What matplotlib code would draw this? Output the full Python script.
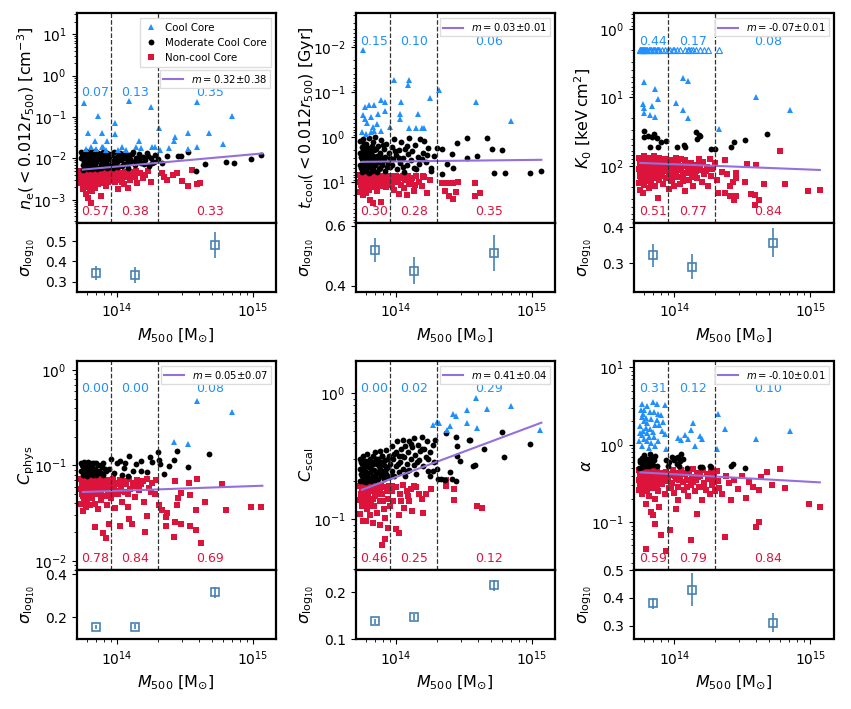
import numpy as np
import matplotlib.pyplot as plt
from matplotlib.ticker import NullFormatter

# all points are (log10 M500, log10 value)

# n_e(<0.012 r500)
ne_cc = [(13.76, -0.65), (13.865, -0.97), (13.79, -1.39), (13.89, -1.39), (13.84, -1.57), (13.93, -1.57),
         (13.99, -1.15), (13.99, -1.41), (14.09, -0.61), (14.25, -0.75), (14.165, -1.57), (14.31, -1.27),
         (14.43, -1.49), (14.52, -1.39), (14.59, -0.63), (14.68, -1.38), (14.78, -1.65), (14.85, -0.97),
         (13.90, -1.72), (13.92, -1.79), (14.01, -1.79), (14.035, -1.72), (14.07, -1.79), (14.14, -1.72),
         (14.18, -1.75), (14.26, -1.72), (14.28, -1.72), (14.32, -1.79), (14.38, -1.75), (14.52, -1.77),
         (14.59, -1.72), (13.77, -1.78), (13.81, -1.72), (13.85, -1.78), (13.89, -1.72), (14.42, -1.59)]
ne_mcc = [(13.74, -1.85), (13.74, -2.0), (13.75, -2.15), (13.75, -2.28), (13.76, -1.92), (13.76, -2.08),
          (13.77, -1.82), (13.77, -2.20), (13.78, -1.98), (13.78, -2.12), (13.79, -1.88), (13.79, -2.25),
          (13.80, -2.02), (13.80, -2.16), (13.81, -1.84), (13.81, -1.95), (13.82, -2.10), (13.82, -2.26),
          (13.83, -1.90), (13.83, -2.04), (13.84, -1.82), (13.84, -2.18), (13.85, -1.96), (13.85, -2.08),
          (13.86, -1.86), (13.86, -2.22), (13.87, -2.00), (13.88, -1.92), (13.88, -2.14), (13.89, -2.05),
          (13.90, -1.85), (13.90, -2.20), (13.91, -1.98), (13.92, -2.10), (13.93, -1.88), (13.94, -2.02),
          (13.95, -2.16), (13.96, -1.92), (13.97, -2.06), (13.98, -1.84), (13.99, -2.12), (14.00, -1.96),
          (14.01, -2.20), (14.02, -1.88), (14.03, -2.04), (14.04, -1.94), (14.05, -2.14), (14.06, -1.86),
          (14.07, -2.00), (14.08, -2.22), (14.09, -1.92), (14.10, -2.08), (14.12, -1.84), (14.13, -2.16),
          (14.14, -1.98), (14.15, -2.06), (14.16, -1.90), (14.18, -2.12), (14.19, -1.96), (14.21, -2.04),
          (14.22, -1.88), (14.24, -2.18), (14.25, -1.98), (14.27, -2.08), (14.28, -1.92), (14.30, -2.02),
          (14.33, -2.10), (14.37, -1.94), (14.45, -1.94), (14.47, -1.95), (14.52, -1.84), (14.58, -2.30),
          (14.65, -2.14), (14.80, -2.08), (14.86, -2.11), (14.985, -2.02), (15.06, -1.91),
          (13.745, -1.95), (13.755, -2.05), (13.765, -2.22), (13.775, -1.90), (13.785, -2.05), (13.795, -2.18),
          (13.805, -1.92), (13.815, -2.22), (13.825, -1.98), (13.835, -2.15), (13.845, -1.92), (13.855, -2.25),
          (13.865, -2.02), (13.875, -1.90), (13.885, -2.24), (13.895, -1.95), (13.905, -2.12), (13.915, -1.86),
          (13.925, -2.24), (13.935, -1.98), (13.945, -2.20), (13.955, -1.90), (13.965, -2.10), (13.975, -2.24),
          (13.985, -1.98), (14.0, -2.08), (14.015, -1.90), (14.035, -2.18), (14.055, -1.98), (14.075, -2.10),
          (14.095, -2.02), (14.11, -1.90), (14.13, -2.06), (14.17, -2.00), (14.20, -2.14), (14.23, -1.95),
          (14.26, -2.12)]
ne_ncc = [(13.74, -2.30), (13.74, -2.45), (13.74, -2.60), (13.75, -2.38), (13.75, -2.52), (13.75, -2.75),
          (13.76, -2.32), (13.76, -2.48), (13.76, -2.65), (13.77, -2.40), (13.77, -2.56), (13.77, -2.85),
          (13.78, -2.35), (13.78, -2.50), (13.78, -2.70), (13.79, -2.42), (13.79, -2.60), (13.79, -2.95),
          (13.80, -2.30), (13.80, -2.47), (13.80, -2.62), (13.81, -2.38), (13.81, -2.55), (13.81, -3.08),
          (13.82, -2.33), (13.82, -2.50), (13.82, -2.78), (13.83, -2.42), (13.83, -2.58), (13.84, -2.36),
          (13.84, -2.52), (13.84, -2.72), (13.85, -2.30), (13.85, -2.46), (13.86, -2.40), (13.86, -2.62),
          (13.87, -2.34), (13.87, -2.50), (13.88, -2.44), (13.88, -2.90), (13.89, -2.32), (13.89, -2.56),
          (13.90, -2.40), (13.91, -2.48), (13.92, -2.35), (13.92, -2.66), (13.93, -2.44), (13.94, -2.30),
          (13.95, -2.52), (13.96, -2.38), (13.97, -2.46), (13.98, -2.34), (13.99, -2.58), (14.00, -2.42),
          (14.01, -2.74), (14.02, -2.36), (14.03, -2.50), (14.04, -2.40), (14.05, -2.62), (14.06, -2.32),
          (14.07, -2.46), (14.08, -2.72), (14.09, -2.38), (14.10, -2.52), (14.12, -2.34), (14.13, -2.44),
          (14.15, -2.60), (14.17, -2.36), (14.19, -2.48), (14.21, -2.40), (14.23, -2.30), (14.25, -2.56),
          (14.33, -2.35), (14.35, -2.44), (14.37, -2.51), (14.41, -2.39), (14.44, -2.35), (14.48, -2.55),
          (14.52, -2.67), (14.55, -2.29), (14.59, -2.63), (14.61, -2.60),
          (13.745, -2.35), (13.745, -2.55), (13.755, -2.42), (13.755, -2.62), (13.765, -2.30), (13.765, -2.56),
          (13.775, -2.45), (13.775, -2.68), (13.785, -2.32), (13.785, -2.58), (13.795, -2.50), (13.805, -2.38),
          (13.805, -2.72), (13.815, -2.45), (13.825, -2.32), (13.825, -2.62), (13.835, -2.48), (13.845, -2.40),
          (13.855, -2.56), (13.865, -2.32), (13.875, -2.44), (13.885, -2.60), (13.895, -2.38), (13.905, -2.52),
          (13.915, -2.32), (13.935, -2.56), (13.955, -2.40), (13.975, -2.32), (14.0, -2.52), (14.04, -2.56),
          (14.11, -2.42), (14.14, -2.30)]

# t_cool(<0.012 r500)
tc_cc = [(13.76, -1.94), (14.10, -1.27), (13.985, -1.27), (14.09, -1.15), (14.25, -0.86), (14.32, -1.03),
         (14.59, -0.78), (14.85, -0.36), (13.89, -0.82), (13.92, -0.78), (13.84, -0.71), (13.80, -0.71),
         (13.77, -0.67), (13.76, -0.48), (13.77, -0.39), (13.82, -0.45), (13.83, -0.22), (13.84, -0.13),
         (13.87, -0.51), (13.75, -0.10), (13.78, -0.06), (13.82, -0.10), (13.89, -0.13), (13.92, -0.58),
         (13.96, -0.21), (14.03, -0.51), (14.03, -0.39), (14.165, -0.51), (14.15, -0.19), (14.19, -0.19),
         (14.10, -0.19), (14.21, -0.19), (14.04, -0.77), (13.79, -0.30), (13.86, -0.28)]
tc_mcc = [(13.74, 0.10), (13.74, 0.35), (13.74, 0.62), (13.75, 0.22), (13.75, 0.50), (13.75, 0.78),
          (13.76, 0.05), (13.76, 0.40), (13.76, 0.68), (13.77, 0.28), (13.77, 0.55), (13.78, 0.15),
          (13.78, 0.45), (13.78, 0.75), (13.79, 0.32), (13.79, 0.60), (13.80, 0.02), (13.80, 0.48),
          (13.80, 0.80), (13.81, 0.25), (13.81, 0.66), (13.82, 0.38), (13.82, 0.55), (13.83, 0.12),
          (13.83, 0.72), (13.84, 0.30), (13.84, 0.50), (13.85, 0.00), (13.85, 0.62), (13.86, 0.42),
          (13.86, 0.78), (13.87, 0.20), (13.87, 0.56), (13.88, 0.35), (13.88, 0.70), (13.89, 0.08),
          (13.89, 0.48), (13.90, 0.62), (13.91, 0.28), (13.92, 0.44), (13.92, 0.75), (13.93, 0.15),
          (13.94, 0.58), (13.95, 0.36), (13.96, 0.68), (13.97, 0.22), (13.98, 0.50), (13.99, 0.05),
          (14.00, 0.40), (14.01, 0.72), (14.02, 0.30), (14.03, 0.58), (14.04, 0.12), (14.05, 0.46),
          (14.06, 0.78), (14.07, 0.26), (14.08, 0.62), (14.09, 0.38), (14.10, 0.02), (14.11, 0.52),
          (14.12, 0.31), (14.13, 0.70), (14.14, 0.18), (14.16, 0.45), (14.17, 0.60), (14.18, 0.05),
          (14.20, 0.35), (14.21, 0.09), (14.22, 0.55), (14.24, 0.24), (14.26, 0.69), (14.28, 0.42),
          (14.30, 0.24), (14.34, 0.28), (14.375, 0.61), (14.41, 0.39), (14.42, 0.69), (14.45, 0.13),
          (14.52, 0.02), (14.52, 0.46), (14.60, 0.42), (14.67, 0.03), (14.71, 0.28), (14.78, 0.30),
          (14.72, 0.81), (14.80, 0.80), (14.99, 0.80), (15.07, 0.77), (14.34, 0.83), (14.26, 0.75),
          (13.745, 0.45), (13.745, 0.70), (13.755, 0.30), (13.755, 0.60), (13.765, 0.15), (13.765, 0.52),
          (13.775, 0.38), (13.775, 0.72), (13.785, 0.25), (13.785, 0.58), (13.795, 0.42), (13.805, 0.68),
          (13.805, 0.30), (13.815, 0.50), (13.825, 0.20), (13.825, 0.76), (13.835, 0.42), (13.845, 0.62),
          (13.855, 0.28), (13.865, 0.52), (13.875, 0.72), (13.885, 0.40), (13.895, 0.60), (13.905, 0.18),
          (13.915, 0.52), (13.935, 0.68), (13.955, 0.46), (13.975, 0.62), (13.995, 0.32), (14.025, 0.48),
          (14.055, 0.66), (14.085, 0.20), (14.15, 0.72), (14.19, 0.50), (14.23, 0.40)]
tc_ncc = [(13.74, 0.85), (13.74, 1.00), (13.74, 1.22), (13.75, 0.92), (13.75, 1.10), (13.76, 0.88),
          (13.76, 1.05), (13.76, 1.30), (13.77, 0.95), (13.77, 1.15), (13.78, 0.86), (13.78, 1.02),
          (13.78, 1.25), (13.79, 0.93), (13.79, 1.08), (13.80, 0.88), (13.80, 1.18), (13.81, 0.98),
          (13.81, 1.40), (13.82, 0.90), (13.82, 1.06), (13.83, 0.85), (13.83, 1.47), (13.84, 0.96),
          (13.84, 1.12), (13.85, 0.88), (13.85, 1.02), (13.86, 0.93), (13.86, 1.20), (13.87, 0.86),
          (13.88, 1.00), (13.88, 1.10), (13.89, 0.90), (13.89, 1.44), (13.90, 1.04), (13.91, 0.87),
          (13.92, 0.97), (13.93, 1.12), (13.94, 0.89), (13.95, 1.02), (13.96, 0.86), (13.97, 1.08),
          (13.98, 0.94), (13.99, 1.18), (14.00, 0.87), (14.01, 1.00), (14.02, 1.26), (14.03, 0.92),
          (14.04, 1.06), (14.05, 0.86), (14.06, 1.14), (14.07, 0.96), (14.08, 1.30), (14.09, 0.88),
          (14.10, 1.04), (14.12, 0.92), (14.13, 1.20), (14.15, 0.87), (14.17, 1.00), (14.19, 1.10),
          (14.21, 0.90), (14.23, 1.24), (14.25, 0.95), (14.34, 1.02), (14.36, 1.21), (14.38, 1.02),
          (14.39, 1.32), (14.42, 1.39), (14.42, 1.02), (14.44, 1.22), (14.46, 1.01), (14.585, 1.02),
          (14.585, 1.32), (14.62, 1.24),
          (13.745, 0.92), (13.745, 1.08), (13.755, 0.86), (13.755, 1.02), (13.765, 0.95), (13.765, 1.14),
          (13.775, 0.88), (13.775, 1.05), (13.785, 0.94), (13.785, 1.12), (13.795, 0.86), (13.795, 1.00),
          (13.805, 0.92), (13.815, 1.08), (13.825, 0.88), (13.835, 1.00), (13.845, 0.90), (13.855, 1.10),
          (13.865, 0.86), (13.875, 1.00), (13.885, 0.92), (13.905, 0.88), (13.925, 1.04), (13.945, 0.92),
          (13.965, 1.00), (13.985, 0.86), (14.015, 0.94), (14.045, 0.90), (14.11, 0.98), (14.14, 1.06),
          (14.20, 0.88)]

# K0
k0_cc = [(13.78, 0.77), (13.77, 1.09), (13.78, 1.16), (13.78, 1.23), (13.82, 1.26), (13.835, 1.13),
         (13.86, 0.87), (13.86, 1.29), (13.88, 1.02), (14.01, 1.08), (14.06, 0.72), (14.065, 1.18),
         (14.10, 0.76), (14.10, 1.30), (14.33, 1.46), (14.60, 1.00), (14.85, 1.19)]
k0_lim = [13.745, 13.75, 13.755, 13.76, 13.765, 13.77, 13.775, 13.78, 13.785, 13.79, 13.80, 13.81,
          13.82, 13.83, 13.84, 13.85, 13.86, 13.87, 13.88, 13.89, 13.91, 13.93, 13.95, 13.97, 13.99,
          14.00, 14.02, 14.04, 14.08, 14.10, 14.11, 14.12, 14.14, 14.16, 14.19, 14.22, 14.25, 14.325]
k0_lim_val = 0.30
k0_mcc = [(13.775, 1.49), (13.78, 1.58), (13.805, 1.57), (13.82, 1.73), (13.835, 1.58), (13.85, 1.54),
          (13.87, 1.59), (13.88, 1.72), (13.90, 1.65), (13.94, 1.63), (14.02, 1.72), (14.07, 1.69),
          (14.08, 1.72), (14.16, 1.51), (14.18, 1.55), (14.19, 1.56), (14.17, 1.60), (14.27, 1.75),
          (14.30, 1.75), (14.42, 1.72), (14.435, 1.65), (14.52, 1.62), (14.68, 1.54)]
k0_ncc = [(13.74, 1.88), (13.74, 2.05), (13.74, 2.25), (13.75, 1.95), (13.75, 2.12), (13.75, 2.35),
          (13.76, 1.90), (13.76, 2.02), (13.76, 2.20), (13.77, 1.98), (13.77, 2.15), (13.77, 2.40),
          (13.78, 1.86), (13.78, 2.08), (13.78, 2.28), (13.79, 1.94), (13.79, 2.12), (13.80, 2.00),
          (13.80, 2.22), (13.81, 1.88), (13.81, 2.06), (13.81, 2.32), (13.82, 1.96), (13.82, 2.14),
          (13.83, 1.90), (13.83, 2.04), (13.83, 2.24), (13.84, 1.98), (13.84, 2.10), (13.85, 1.86),
          (13.85, 2.18), (13.86, 2.02), (13.86, 2.30), (13.87, 1.92), (13.87, 2.12), (13.88, 2.00),
          (13.88, 2.47), (13.89, 1.88), (13.89, 2.20), (13.90, 2.06), (13.91, 1.95), (13.91, 2.14),
          (13.92, 2.02), (13.92, 2.26), (13.93, 1.90), (13.94, 2.08), (13.94, 2.18), (13.95, 1.98),
          (13.96, 2.12), (13.96, 2.34), (13.97, 1.92), (13.98, 2.04), (13.98, 2.22), (13.99, 1.96),
          (14.00, 2.10), (14.00, 2.30), (14.01, 1.88), (14.02, 2.02), (14.02, 2.16), (14.03, 1.94),
          (14.04, 2.26), (14.05, 2.06), (14.05, 1.90), (14.06, 2.14), (14.07, 2.00), (14.08, 2.36),
          (14.08, 1.92), (14.09, 2.10), (14.10, 2.04), (14.11, 2.20), (14.12, 1.96), (14.13, 2.12),
          (14.14, 2.30), (14.15, 1.98), (14.16, 2.08), (14.17, 2.18), (14.18, 1.90), (14.19, 2.06),
          (14.20, 2.24), (14.21, 1.95), (14.22, 2.12), (14.24, 2.02), (14.25, 2.30), (14.26, 1.90),
          (14.27, 2.14), (14.28, 2.04), (14.30, 1.96), (14.31, 2.20), (14.32, 2.40), (14.37, 1.92),
          (14.35, 2.09), (14.39, 2.12), (14.45, 2.11), (14.45, 2.17), (14.43, 2.24), (14.41, 2.29),
          (14.37, 2.39), (14.41, 2.44), (14.44, 2.50), (14.45, 2.44), (14.535, 1.97), (14.60, 1.98),
          (14.56, 2.41), (14.59, 2.42), (14.62, 2.50), (14.59, 2.57), (14.66, 2.26), (14.78, 1.78),
          (14.81, 2.27), (14.985, 2.37), (15.07, 2.35), (14.52, 2.24),
          (13.745, 1.96), (13.745, 2.15), (13.755, 2.02), (13.755, 2.22), (13.765, 1.88), (13.765, 2.10),
          (13.775, 2.00), (13.775, 2.28), (13.785, 1.95), (13.785, 2.16), (13.795, 2.04), (13.805, 1.92),
          (13.805, 2.12), (13.815, 2.00), (13.825, 2.22), (13.835, 1.94), (13.845, 2.06), (13.855, 2.12),
          (13.865, 1.90), (13.875, 2.04), (13.885, 2.16), (13.895, 1.96), (13.905, 2.12), (13.925, 1.94),
          (13.945, 2.00), (13.965, 2.06), (13.985, 2.14), (14.015, 2.08), (14.035, 2.00), (14.065, 2.22),
          (14.095, 1.98), (14.125, 2.04), (14.155, 2.16), (14.19, 1.98), (14.23, 2.08)]

# C_phys
cp_cc = [(14.59, -0.33), (14.85, -0.44), (14.42, -0.755), (14.52, -0.78)]
cp_mcc = [(13.74, -0.98), (13.74, -1.06), (13.75, -1.02), (13.75, -1.10), (13.76, -0.96), (13.76, -1.04),
          (13.77, -1.08), (13.77, -0.99), (13.78, -1.03), (13.78, -1.11), (13.79, -0.97), (13.80, -1.06),
          (13.80, -1.00), (13.81, -1.09), (13.82, -1.02), (13.83, -0.98), (13.83, -1.07), (13.84, -1.04),
          (13.85, -1.10), (13.86, -1.00), (13.87, -1.06), (13.88, -1.08), (13.89, -1.02), (13.90, -0.97),
          (13.90, -1.10), (13.92, -1.06), (13.94, -1.04), (13.96, -0.93), (13.98, -1.08), (14.00, -0.97),
          (14.02, -0.95), (14.04, -1.10), (14.05, -1.03), (14.06, -0.97), (14.085, -1.11), (14.09, -0.90),
          (14.12, -1.06), (14.14, -0.99), (14.175, -1.06), (14.18, -0.95), (14.22, -1.07), (14.245, -0.91),
          (14.26, -0.96), (14.30, -0.86), (14.31, -0.94), (14.32, -0.99), (14.35, -1.09), (14.38, -1.01),
          (14.42, -0.94), (14.44, -0.85), (14.52, -1.02), (14.68, -0.88),
          (13.745, -1.00), (13.755, -1.06), (13.765, -0.99), (13.775, -1.04), (13.785, -0.96), (13.795, -1.08),
          (13.805, -1.03), (13.815, -0.98), (13.825, -1.10), (13.845, -0.98), (13.865, -1.08), (13.885, -1.00),
          (13.91, -1.04)]
cp_ncc = [(13.74, -1.14), (13.74, -1.25), (13.74, -1.40), (13.75, -1.18), (13.75, -1.32), (13.75, -1.48),
          (13.76, -1.15), (13.76, -1.22), (13.76, -1.36), (13.77, -1.20), (13.77, -1.28), (13.77, -1.44),
          (13.78, -1.13), (13.78, -1.24), (13.78, -1.38), (13.79, -1.17), (13.79, -1.30), (13.80, -1.21),
          (13.80, -1.42), (13.81, -1.15), (13.81, -1.27), (13.82, -1.19), (13.82, -1.34), (13.83, -1.14),
          (13.83, -1.25), (13.84, -1.21), (13.84, -1.40), (13.84, -1.65), (13.85, -1.17), (13.85, -1.30),
          (13.86, -1.23), (13.86, -1.46), (13.87, -1.15), (13.87, -1.28), (13.88, -1.20), (13.88, -1.36),
          (13.89, -1.13), (13.89, -1.25), (13.90, -1.18), (13.90, -1.71), (13.91, -1.32), (13.92, -1.22),
          (13.92, -1.76), (13.93, -1.15), (13.93, -1.42), (13.94, -1.26), (13.94, -1.61), (13.95, -1.19),
          (13.96, -1.34), (13.97, -1.14), (13.98, -1.24), (13.99, -1.45), (14.00, -1.18), (14.01, -1.30),
          (14.02, -1.64), (14.02, -1.15), (14.03, -1.22), (14.04, -1.38), (14.05, -1.16), (14.06, -1.28),
          (14.07, -1.20), (14.08, -1.44), (14.09, -1.56), (14.09, -1.14), (14.10, -1.25), (14.115, -1.61),
          (14.12, -1.18), (14.13, -1.33), (14.15, -1.15), (14.16, -1.26), (14.18, -1.20), (14.20, -1.38),
          (14.21, -1.70), (14.22, -1.535), (14.22, -1.14), (14.24, -1.24), (14.26, -1.18), (14.28, -1.30),
          (14.29, -1.15), (14.31, -1.41), (14.33, -1.47), (14.36, -1.64), (14.36, -1.54), (14.37, -1.50),
          (14.42, -1.745), (14.43, -1.59), (14.43, -1.16), (14.44, -1.42), (14.45, -1.34), (14.47, -1.61),
          (14.47, -1.29), (14.53, -1.18), (14.54, -1.63), (14.54, -1.31), (14.58, -1.47), (14.585, -1.675),
          (14.59, -1.14), (14.62, -1.81), (14.65, -1.38), (14.775, -1.19), (14.80, -1.465), (14.985, -1.44),
          (15.06, -1.44),
          (13.745, -1.18), (13.745, -1.30), (13.755, -1.22), (13.755, -1.40), (13.765, -1.17), (13.765, -1.28),
          (13.775, -1.14), (13.775, -1.34), (13.785, -1.20), (13.785, -1.30), (13.795, -1.16), (13.795, -1.24),
          (13.805, -1.14), (13.805, -1.34), (13.815, -1.22), (13.825, -1.15), (13.825, -1.28), (13.835, -1.19),
          (13.845, -1.30), (13.855, -1.14), (13.865, -1.26), (13.875, -1.18), (13.885, -1.30), (13.895, -1.16),
          (13.915, -1.22), (13.935, -1.28), (13.955, -1.16), (13.975, -1.30), (13.995, -1.20), (14.025, -1.27),
          (14.055, -1.20), (14.085, -1.30), (14.14, -1.22), (14.19, -1.16), (14.25, -1.28)]

# C_scal
cs_cc = [(14.27, -0.25), (14.30, -0.226), (14.32, -0.235), (14.375, -0.29), (14.395, -0.26), (14.42, -0.165),
         (14.44, -0.18), (14.52, -0.13), (14.525, -0.24), (14.59, -0.04), (14.595, -0.28), (14.67, -0.125),
         (14.845, -0.10), (15.06, -0.29)]
cs_mcc = [(13.74, -0.70), (13.74, -0.60), (13.74, -0.52), (13.75, -0.66), (13.75, -0.56), (13.76, -0.70),
          (13.76, -0.62), (13.76, -0.50), (13.77, -0.66), (13.77, -0.58), (13.78, -0.71), (13.78, -0.54),
          (13.79, -0.64), (13.79, -0.48), (13.80, -0.69), (13.80, -0.59), (13.81, -0.63), (13.81, -0.52),
          (13.82, -0.70), (13.82, -0.57), (13.83, -0.66), (13.83, -0.50), (13.84, -0.61), (13.84, -0.55),
          (13.85, -0.69), (13.85, -0.47), (13.86, -0.63), (13.86, -0.56), (13.87, -0.68), (13.87, -0.52),
          (13.88, -0.60), (13.88, -0.46), (13.89, -0.66), (13.89, -0.55), (13.90, -0.62), (13.90, -0.50),
          (13.91, -0.68), (13.91, -0.57), (13.92, -0.53), (13.93, -0.64), (13.93, -0.45), (13.94, -0.59),
          (13.95, -0.67), (13.95, -0.50), (13.96, -0.56), (13.97, -0.62), (13.97, -0.42), (13.98, -0.52),
          (13.99, -0.66), (14.00, -0.47), (14.00, -0.58), (14.01, -0.38), (14.02, -0.63), (14.02, -0.50),
          (14.03, -0.55), (14.04, -0.44), (14.05, -0.60), (14.05, -0.37), (14.06, -0.51), (14.07, -0.66),
          (14.07, -0.42), (14.08, -0.56), (14.09, -0.47), (14.10, -0.38), (14.10, -0.61), (14.11, -0.52),
          (14.12, -0.43), (14.13, -0.57), (14.13, -0.36), (14.14, -0.49), (14.15, -0.64), (14.16, -0.41),
          (14.17, -0.53), (14.18, -0.46), (14.19, -0.35), (14.20, -0.58), (14.21, -0.44), (14.22, -0.51),
          (14.23, -0.38), (14.24, -0.62), (14.25, -0.47), (14.25, -0.66), (14.27, -0.41), (14.28, -0.55),
          (14.29, -0.37), (14.30, -0.60), (14.31, -0.68), (14.33, -0.68), (14.36, -0.69), (14.37, -0.32),
          (14.40, -0.63), (14.41, -0.68), (14.44, -0.70), (14.44, -0.35), (14.45, -0.42), (14.45, -0.50),
          (14.47, -0.54), (14.535, -0.37), (14.545, -0.375), (14.57, -0.58), (14.58, -0.575), (14.65, -0.44),
          (14.78, -0.31), (14.795, -0.51), (14.985, -0.40),
          (13.745, -0.64), (13.745, -0.55), (13.755, -0.70), (13.755, -0.60), (13.765, -0.66), (13.765, -0.54),
          (13.775, -0.70), (13.775, -0.62), (13.785, -0.58), (13.795, -0.67), (13.805, -0.55), (13.815, -0.68),
          (13.825, -0.61), (13.835, -0.56), (13.845, -0.65), (13.855, -0.52), (13.865, -0.68), (13.875, -0.58),
          (13.885, -0.64), (13.895, -0.50), (13.905, -0.66), (13.925, -0.60), (13.945, -0.52), (13.965, -0.66),
          (13.985, -0.48), (14.015, -0.56), (14.045, -0.50), (14.085, -0.62), (14.115, -0.40), (14.155, -0.55),
          (14.19, -0.44), (14.235, -0.52), (14.27, -0.62)]
cs_ncc = [(13.74, -0.74), (13.74, -0.85), (13.74, -0.96), (13.75, -0.78), (13.75, -0.90), (13.76, -0.73),
          (13.76, -0.82), (13.76, -1.02), (13.77, -0.76), (13.77, -0.88), (13.78, -0.80), (13.78, -1.02),
          (13.79, -0.74), (13.79, -0.92), (13.80, -0.84), (13.80, -0.76), (13.81, -0.97), (13.81, -0.73),
          (13.82, -0.86), (13.83, -1.03), (13.83, -0.78), (13.84, -0.90), (13.85, -0.74), (13.85, -0.82),
          (13.86, -0.95), (13.87, -0.77), (13.88, -1.05), (13.88, -0.86), (13.89, -0.73), (13.90, -1.21),
          (13.90, -0.80), (13.91, -0.92), (13.92, -1.16), (13.92, -0.99), (13.92, -0.75), (13.94, -1.07),
          (13.94, -0.84), (13.95, -0.74), (13.96, -0.90), (13.97, -0.78), (13.98, -0.86), (14.00, -1.08),
          (14.00, -0.75), (14.02, -1.11), (14.02, -0.97), (14.03, -0.80), (14.05, -0.73), (14.06, -0.91),
          (14.08, -0.78), (14.09, -0.82), (14.10, -0.86), (14.12, -0.94), (14.13, -0.74), (14.15, -0.75),
          (14.17, -0.80), (14.20, -0.95), (14.225, -0.80), (14.26, -0.76), (14.37, -0.69), (14.37, -0.74),
          (14.43, -0.76), (14.425, -0.85), (14.60, -0.90), (14.63, -0.91),
          (13.745, -0.80), (13.755, -0.74), (13.755, -0.86), (13.765, -0.78), (13.775, -0.82), (13.785, -0.74),
          (13.795, -0.80), (13.805, -0.90), (13.815, -0.78), (13.825, -0.74), (13.835, -0.84), (13.845, -0.76),
          (13.865, -0.80), (13.885, -0.76), (13.905, -0.86), (13.935, -0.78), (13.975, -0.74), (14.04, -0.86),
          (14.11, -0.76), (14.19, -0.84)]

# alpha
al_cc = [(13.765, 0.53), (13.84, 0.55), (13.87, 0.53), (13.93, 0.52), (13.77, 0.40), (13.78, 0.31),
         (13.76, 0.36), (13.80, 0.28), (13.83, 0.33), (13.87, 0.32), (13.89, 0.25), (13.79, 0.22),
         (13.82, 0.20), (13.84, 0.16), (13.76, 0.12), (13.78, 0.08), (13.80, 0.05), (13.83, 0.02),
         (13.76, -0.01), (13.81, -0.04), (13.85, 0.10), (13.86, -0.02), (13.91, 0.18), (13.93, 0.14),
         (13.88, 0.05), (13.94, -0.05), (13.75, 0.24), (13.78, 0.45), (13.85, 0.42), (13.90, 0.38),
         (13.74, 0.05), (13.80, 0.15), (14.135, 0.28), (14.12, 0.19), (14.08, 0.12), (14.03, 0.09),
         (14.05, 0.06), (14.10, 0.07), (14.19, 0.11), (14.20, 0.07), (14.15, -0.02), (14.32, 0.40),
         (14.37, 0.21), (14.31, -0.05), (14.60, 0.08), (14.85, 0.18),
         (13.745, 0.15), (13.755, 0.45), (13.77, 0.18), (13.79, 0.35), (13.81, 0.10), (13.82, 0.42),
         (13.86, 0.25), (13.88, 0.40), (13.92, 0.30), (13.80, 0.50)]
al_mcc = [(13.74, -0.30), (13.75, -0.22), (13.76, -0.29), (13.76, -0.17), (13.77, -0.25), (13.78, -0.22),
          (13.78, -0.13), (13.79, -0.27), (13.80, -0.19), (13.81, -0.18), (13.81, -0.28), (13.82, -0.12),
          (13.83, -0.22), (13.84, -0.26), (13.85, -0.20), (13.86, -0.15), (13.87, -0.28), (13.94, -0.20),
          (13.95, -0.27), (13.98, -0.16), (14.00, -0.20), (14.02, -0.25), (14.03, -0.16), (14.04, -0.21),
          (14.05, -0.12), (14.06, -0.19), (14.09, -0.30), (14.19, -0.29), (14.20, -0.29), (14.265, -0.28),
          (14.27, -0.29), (14.42, -0.27), (14.43, -0.25), (14.52, -0.30),
          (13.745, -0.20), (13.765, -0.24), (13.775, -0.16), (13.795, -0.20), (13.815, -0.24), (13.835, -0.17),
          (13.96, -0.22), (14.01, -0.17), (14.035, -0.27)]
al_ncc = [(13.74, -0.33), (13.74, -0.45), (13.74, -0.58), (13.75, -0.38), (13.75, -0.52), (13.76, -0.35),
          (13.76, -0.47), (13.76, -0.63), (13.77, -0.40), (13.77, -0.55), (13.78, -0.32), (13.78, -0.48),
          (13.79, -0.43), (13.79, -0.76), (13.79, -1.35), (13.80, -0.36), (13.80, -0.58), (13.81, -0.45),
          (13.81, -0.66), (13.82, -0.34), (13.82, -0.52), (13.83, -0.41), (13.83, -0.87), (13.84, -0.56),
          (13.84, -0.91), (13.85, -0.38), (13.855, -1.02), (13.86, -0.48), (13.86, -0.70), (13.87, -0.33),
          (13.88, -0.44), (13.88, -0.60), (13.89, -0.80), (13.90, -0.37), (13.905, -1.17), (13.91, -0.51),
          (13.92, -0.42), (13.93, -0.64), (13.94, -1.37), (13.94, -0.35), (13.95, -0.47), (13.96, -0.56),
          (13.97, -1.105), (13.97, -0.39), (13.98, -0.50), (13.99, -0.33), (14.00, -0.62), (14.01, -0.83),
          (14.01, -0.44), (14.02, -0.36), (14.03, -0.71), (14.03, -0.54), (14.04, -0.41), (14.05, -0.32),
          (14.06, -0.48), (14.07, -0.58), (14.08, -0.38), (14.09, -0.45), (14.10, -0.66), (14.11, -0.35),
          (14.12, -1.23), (14.12, -0.52), (14.13, -0.42), (14.14, -0.31), (14.15, -0.60), (14.16, -0.46),
          (14.17, -0.90), (14.17, -0.36), (14.18, -0.54), (14.19, -0.40), (14.20, -0.72), (14.21, -0.33),
          (14.22, -0.49), (14.23, -0.58), (14.24, -0.38), (14.25, -0.44), (14.26, -0.64), (14.27, -0.35),
          (14.28, -0.52), (14.29, -0.41), (14.30, -0.60), (14.31, -0.34), (14.32, -0.47), (14.33, -0.56),
          (14.35, -0.64), (14.37, -1.19), (14.38, -0.40), (14.40, -0.50), (14.42, -0.71), (14.44, -0.45),
          (14.47, -0.57), (14.50, -0.40), (14.53, -0.69), (14.55, -0.48), (14.58, -0.55), (14.60, -1.06),
          (14.62, -1.00), (14.62, -0.58), (14.64, -0.42), (14.68, -0.35), (14.72, -0.52), (14.78, -0.31),
          (14.81, -0.56), (14.99, -0.77), (15.07, -0.81),
          (13.745, -0.40), (13.745, -0.50), (13.755, -0.34), (13.755, -0.45), (13.765, -0.42), (13.765, -0.55),
          (13.775, -0.34), (13.775, -0.47), (13.785, -0.40), (13.785, -0.60), (13.795, -0.35), (13.795, -0.52),
          (13.805, -0.42), (13.815, -0.38), (13.815, -0.55), (13.825, -0.46), (13.835, -0.36), (13.845, -0.50),
          (13.855, -0.42), (13.865, -0.34), (13.875, -0.56), (13.885, -0.38), (13.895, -0.48), (13.915, -0.36),
          (13.935, -0.46), (13.955, -0.38), (13.975, -0.54), (14.005, -0.40), (14.035, -0.46), (14.065, -0.36),
          (14.095, -0.54), (14.135, -0.48), (14.175, -0.42), (14.215, -0.54), (14.255, -0.38), (14.295, -0.48)]

# fitted line end points (log10 value at the two mass ends)
fit_m = [13.75, 15.07]
fit_ne = [-2.27, -1.88]
fit_tc = [0.556, 0.511]
fit_k0 = [1.956, 2.059]
fit_cp = [-1.279, -1.213]
fit_cs = [-0.769, -0.234]
fit_al = [-0.357, -0.486]
slopes = ['0.32$\\pm$0.38', '0.03$\\pm$0.01', '-0.07$\\pm$0.01',
          '0.05$\\pm$0.07', '0.41$\\pm$0.04', '-0.10$\\pm$0.01']

# fractions per mass bin
cc_frac = [['0.07', '0.13', '0.35'], ['0.15', '0.10', '0.06'], ['0.44', '0.17', '0.08'],
           ['0.00', '0.00', '0.08'], ['0.00', '0.02', '0.29'], ['0.31', '0.12', '0.10']]
ncc_frac = [['0.57', '0.38', '0.33'], ['0.30', '0.28', '0.35'], ['0.51', '0.77', '0.84'],
            ['0.78', '0.84', '0.69'], ['0.46', '0.25', '0.12'], ['0.59', '0.79', '0.84']]

# scatter (sigma_log10) per mass bin
sig_m = [7.0e13, 1.35e14, 5.3e14]
sig_ne = [0.345, 0.335, 0.48]
sig_ne_err = [0.035, 0.04, 0.065]
sig_tc = [0.52, 0.45, 0.51]
sig_tc_err = [0.04, 0.045, 0.06]
sig_k0 = [0.323, 0.29, 0.357]
sig_k0_err = [0.032, 0.035, 0.04]
sig_cp = [0.152, 0.155, 0.315]
sig_cp_err = [0.01, 0.01, 0.025]
sig_cs = [0.138, 0.147, 0.215]
sig_cs_err = [0.006, 0.006, 0.012]
sig_al = [0.38, 0.43, 0.31]
sig_al_err = [0.02, 0.06, 0.035]

bin_edges = [9e13, 2e14]

ylabels = [r'$n_{\rm e}(<0.012r_{500})$ [cm$^{-3}$]', r'$t_{\rm cool}(<0.012r_{500})$ [Gyr]',
           r'$K_0$ [keV$\,$cm$^2$]', r'$C_{\rm phys}$', r'$C_{\rm scal}$', r'$\alpha$']

panels = [
    dict(cc=ne_cc, mcc=ne_mcc, ncc=ne_ncc, fit=fit_ne, sig=sig_ne, err=sig_ne_err,
         ylim=(2.8e-4, 32), slim=(0.25, 0.59), sticks=[0.3, 0.4, 0.5], ytxt=0.62),
    dict(cc=tc_cc, mcc=tc_mcc, ncc=tc_ncc, fit=fit_tc, sig=sig_tc, err=sig_tc_err,
         ylim=(81, 1.8e-3), slim=(0.38, 0.61), sticks=[0.4, 0.6], ytxt=0.865),
    dict(cc=k0_cc, mcc=k0_mcc, ncc=k0_ncc, fit=fit_k0, sig=sig_k0, err=sig_k0_err,
         ylim=(675, 0.59), slim=(0.22, 0.413), sticks=[0.3, 0.4], ytxt=0.865),
    dict(cc=cp_cc, mcc=cp_mcc, ncc=cp_ncc, fit=fit_cp, sig=sig_cp, err=sig_cp_err,
         ylim=(0.008, 1.25), slim=(0.095, 0.42), sticks=[0.2, 0.4], ytxt=0.865),
    dict(cc=cs_cc, mcc=cs_mcc, ncc=cs_ncc, fit=fit_cs, sig=sig_cs, err=sig_cs_err,
         ylim=(0.039, 1.82), slim=(0.1, 0.247), sticks=[0.1, 0.2], ytxt=0.865),
    dict(cc=al_cc, mcc=al_mcc, ncc=al_ncc, fit=fit_al, sig=sig_al, err=sig_al_err,
         ylim=(0.024, 12.2), slim=(0.25, 0.5), sticks=[0.3, 0.4, 0.5], ytxt=0.865),
]

blue = '#1e90ff'
red = '#dc143c'

plt.rcParams['xtick.labelsize'] = 10
plt.rcParams['ytick.labelsize'] = 10
plt.rcParams['axes.linewidth'] = 1.6

W, H = 851, 709
fig = plt.figure(figsize=(W / 100, H / 100), dpi=100)

col_left = [76.5, 355.5, 634]
row_top = [13.3, 360.7]
main_h, sub_h, ax_w = 209.4, 69.3, 199.5


def pts(pairs):
    a = np.array(pairs)
    return 10 ** a[:, 0], 10 ** a[:, 1]


for i, p in enumerate(panels):
    r, c = divmod(i, 3)
    x0 = col_left[c]
    top = row_top[r]
    ax = fig.add_axes([x0 / W, 1 - (top + main_h) / H, ax_w / W, main_h / H])
    sub = fig.add_axes([x0 / W, 1 - (top + main_h + sub_h) / H, ax_w / W, sub_h / H], sharex=ax)

    ax.set_xscale('log')
    ax.set_yscale('log')

    m, v = pts(p['ncc'])
    h_ncc, = ax.plot(m, v, 's', color=red, ms=4.0, mew=0, label='Non-cool Core')
    m, v = pts(p['mcc'])
    h_mcc, = ax.plot(m, v, 'o', color='k', ms=4.2, mew=0, label='Moderate Cool Core')
    m, v = pts(p['cc'])
    h_cc, = ax.plot(m, v, '^', color=blue, ms=4.4, mew=0, label='Cool Core')
    if i == 2:
        ax.plot(10 ** np.array(k0_lim), np.full(len(k0_lim), 10 ** k0_lim_val), '^',
                mfc='none', mec=blue, ms=4.2, mew=0.8)

    fl, = ax.plot(10 ** np.array(fit_m), 10 ** np.array(p['fit']), color='mediumpurple', lw=1.5,
                  label='$m=$' + slopes[i])

    for e in bin_edges:
        ax.axvline(e, color='#333333', ls='--', lw=0.9)

    for xt, t in zip([0.025, 0.225, 0.6], cc_frac[i]):
        ax.text(xt, p['ytxt'], t, color=blue, fontsize=9, transform=ax.transAxes, va='center')
    for xt, t in zip([0.025, 0.225, 0.6], ncc_frac[i]):
        ax.text(xt, 0.055, t, color=red, fontsize=9, transform=ax.transAxes, va='center')

    if i == 0:
        leg1 = ax.legend(handles=[h_cc, h_mcc, h_ncc], loc='upper right', fontsize=7.4,
                         handlelength=1.2, framealpha=1, fancybox=False, edgecolor='#dddddd')
        ax.add_artist(leg1)
        ax.legend(handles=[fl], loc='upper right', bbox_to_anchor=(0.995, 0.755), fontsize=7.2,
                  framealpha=1, fancybox=False, edgecolor='#dddddd', borderpad=0.3)
    else:
        ax.legend(handles=[fl], loc='upper right', fontsize=7.2, framealpha=1, fancybox=False,
                  edgecolor='#dddddd', borderpad=0.3)

    ax.set_xlim(5.05e13, 1.48e15)
    ax.set_ylim(*p['ylim'])
    ax.yaxis.set_minor_formatter(NullFormatter())
    ax.tick_params(axis='x', which='both', bottom=False, labelbottom=False)
    ax.set_ylabel(ylabels[i], fontsize=11.5)

    sub.errorbar(sig_m, p['sig'], yerr=p['err'], fmt='s', mfc='none', mec='steelblue',
                 ecolor='steelblue', ms=6, mew=1.2, elinewidth=1.2)
    sub.set_ylim(*p['slim'])
    sub.set_yticks(p['sticks'])
    sub.set_xscale('log')
    sub.set_xlim(5.05e13, 1.48e15)
    sub.xaxis.set_minor_formatter(NullFormatter())
    sub.set_ylabel(r'$\sigma_{\log_{10}}$', fontsize=11.5)
    sub.set_xlabel(r'$M_{500}$ [M$_{\odot}$]', fontsize=11.5)

    ax.yaxis.set_label_coords(-0.2, 0.5)
    sub.yaxis.set_label_coords(-0.2, 0.5)

fig.savefig('out.png', dpi=100)
